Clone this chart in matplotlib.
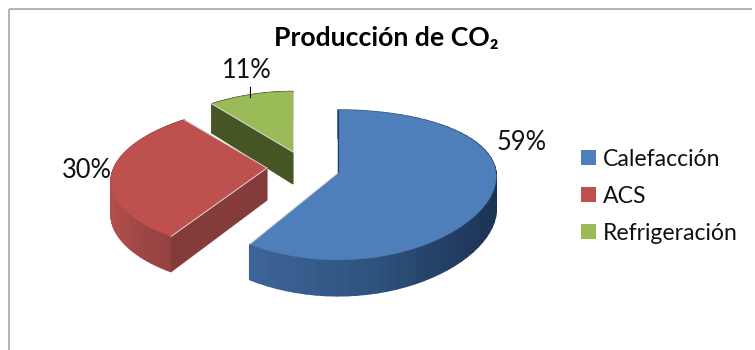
import numpy as np
import matplotlib
matplotlib.use("Agg")
import matplotlib.pyplot as plt
from matplotlib.colors import LinearSegmentedColormap
from matplotlib.patches import Patch, Polygon

categories = ["Calefacción", "ACS", "Refrigeración"]
values = [59, 30, 11]
title = "Producción de CO₂"

plt.rcParams["font.family"] = ["Lato", "DejaVu Sans"]

colors = ["#4F7FBB", "#BE504E", "#9BBB59"]
side_cmaps = [
    ["#3E6597", "#2F5480", "#1C3354"],
    ["#B14F4C", "#9C4644", "#93403E"],
    ["#46562A", "#46562A"],
]
radial_colors = ["#1F3A60", "#853B39", "#465524"]
start_edge_colors = ["#1F3A60", "#D8D8D8", "#D8D8D8"]
apexes = [(338, 173), (267, 168), (293, 152)]
rx_list = [158, 153, 153]
ry_list = [73, 70, 70]
kx_list = [0.05, 0.2, 0.22]
KY = 0.16
DEPTH = 32
label_pos = [(522, 142), (87, 171), (247, 71)]

fig = plt.figure(figsize=(7.55, 3.5), dpi=100)
ax = fig.add_axes([0, 0, 1, 1])
ax.set_xlim(0, 755)
ax.set_ylim(350, 0)
ax.axis("off")


def project(i, theta):
    u = np.sin(theta)
    v = np.cos(theta)
    ax_, ay_ = apexes[i]
    x = ax_ + rx_list[i] * u * (1 - kx_list[i] * v)
    y = ay_ - ry_list[i] * v / (1 + KY * v)
    return x, y, v


def drop(v):
    return DEPTH * (1 - 0.12 * v)


shares = np.array(values) / np.sum(values)
edges = np.concatenate([[0], np.cumsum(shares)]) * 2 * np.pi

for i in [2, 1, 0]:
    base = (2 - i) * 4
    start, end = edges[i], edges[i + 1]
    th = np.linspace(start, end, 61)
    x, y, v = project(i, th)
    cmap = LinearSegmentedColormap.from_list("s", side_cmaps[i])
    xn = (x - x.min()) / max(np.ptp(x), 1)
    for j in range(len(th) - 1):
        quad = [(x[j], y[j]), (x[j + 1], y[j + 1]),
                (x[j + 1], y[j + 1] + drop(v[j + 1])), (x[j], y[j] + drop(v[j]))]
        c = cmap(xn[j])
        ax.add_patch(Polygon(quad, closed=True, facecolor=c, edgecolor=c, lw=1.2,
                             joinstyle="round", zorder=1 + base))
    ax0, ay0 = apexes[i]
    x0, y0, v0 = project(i, start)
    wall = [(ax0, ay0), (x0, y0), (x0, y0 + drop(v0)), (ax0, ay0 + DEPTH)]
    ax.add_patch(Polygon(wall, closed=True, facecolor=radial_colors[i], edgecolor=radial_colors[i],
                         lw=0.8, zorder=2 + base))
    top = [(ax0, ay0)] + list(zip(x, y))
    ax.add_patch(Polygon(top, closed=True, facecolor=colors[i], edgecolor=colors[i], lw=0.3,
                         zorder=3 + base))
    ax.plot([ax0, x0], [ay0, y0], color=start_edge_colors[i], lw=0.7, zorder=4 + base)
    ax.plot([ax0, x[-1]], [ay0, y[-1]], color="#D8D8D8", lw=0.6, zorder=4 + base)

for i, (lx, ly) in enumerate(label_pos):
    ax.text(lx, ly, f"{values[i]}%", ha="center", va="center", fontsize=18.4, color="#111111", zorder=30)

ax.plot([250, 250], [87, 97], color="black", lw=0.8, zorder=30)

ax.text(386, 38, title, ha="center", va="center", fontsize=19.2, fontweight="bold", color="black")

handles = [Patch(facecolor=c, edgecolor="none") for c in colors]
ax.legend(handles, categories, loc="upper left", bbox_to_anchor=(569.5 / 755, 1 - 137 / 350),
          frameon=False, fontsize=16.6, handlelength=0.65, handleheight=0.65,
          handletextpad=0.3, labelspacing=0.7, borderpad=0.5, borderaxespad=0, labelcolor="#111111")

ax.plot([9, 9], [350, 8.5], color="#B5B5B5", lw=1.5, solid_capstyle="butt", zorder=0)
ax.plot([9, 752], [8.5, 8.5], color="#B5B5B5", lw=1.5, solid_capstyle="butt", zorder=0)

fig.savefig("out.png", dpi=100)
